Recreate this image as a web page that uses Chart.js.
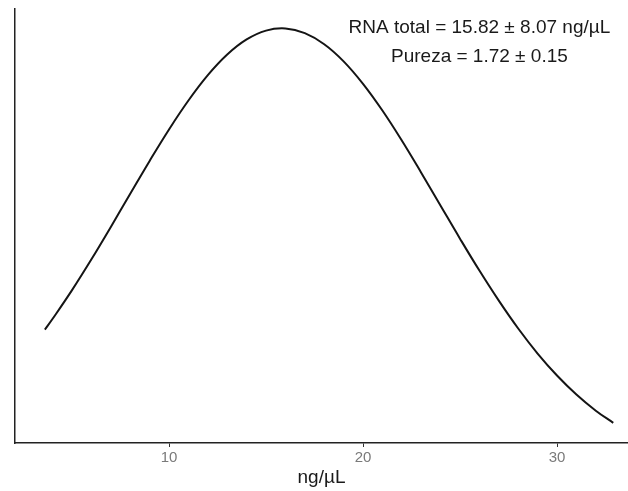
<!DOCTYPE html>
<html>
<head>
<meta charset="utf-8">
<script src="https://cdn.jsdelivr.net/npm/chart.js@4/dist/chart.umd.min.js"></script>
<style>
  html, body { margin: 0; padding: 0; background: #fff; }
  #wrap { width: 628px; height: 491px; }
</style>
</head>
<body>
<div id="wrap"><canvas id="myChart" width="628" height="491"></canvas></div>
<script>
// curve (x in ng/uL, y = density)
var concX = [3.6, 4, 5, 6, 7, 8, 9, 10, 11, 12, 13, 14, 15, 16, 17, 18, 19, 20, 21, 22,
             23, 24, 25, 26, 27, 28, 29, 30, 31, 32, 32.9];
var densY = [0.01570, 0.01691, 0.02012, 0.02357, 0.02720, 0.03091, 0.03459, 0.03811, 0.04135, 0.04419,
             0.04650, 0.04819, 0.04918, 0.04942, 0.04890, 0.04766, 0.04574, 0.04322, 0.04023, 0.03687,
             0.03327, 0.02957, 0.02588, 0.02231, 0.01894, 0.01582, 0.01302, 0.01056, 0.00843, 0.00662,
             0.00526];
var xTicks = [10, 20, 30];
var xTitle = "ng/\u00b5L";
var noteLines = ["RNA total = 15.82 \u00b1 8.07 ng/\u00b5L", "Pureza = 1.72 \u00b1 0.15"];
var noteX = 26;
var noteY = [0.0495, 0.04625];

var points = [];
for (var i = 0; i < concX.length; i++) {
    points.push({ x: concX[i], y: densY[i] });
}

// writes the summary text at data coords
var notePlugin = {
    id: "note",
    afterDatasetsDraw: function (chart) {
        var ctx = chart.ctx;
        var xs = chart.scales.x, ys = chart.scales.y;
        ctx.save();
        ctx.font = "19px 'Liberation Sans', Arial, sans-serif";
        ctx.fillStyle = "#1a1a1a";
        ctx.textAlign = "center";
        ctx.textBaseline = "middle";
        for (var j = 0; j < noteLines.length; j++) {
            ctx.fillText(noteLines[j], xs.getPixelForValue(noteX), ys.getPixelForValue(noteY[j]));
        }
        ctx.restore();
    }
};

var ctx = document.getElementById("myChart").getContext("2d");
var chart = new Chart(ctx, {
    type: "line",
    data: {
        datasets: [{
            data: points,
            borderColor: "#141414",
            borderWidth: 2,
            backgroundColor: "transparent",
            pointRadius: 0,
            tension: 0.4,
            fill: false
        }]
    },
    options: {
        responsive: false,
        animation: false,
        layout: { padding: { top: 9, right: 0, bottom: 0, left: 0 } },
        plugins: {
            legend: { display: false },
            tooltip: { enabled: false }
        },
        scales: {
            x: {
                type: "linear",
                min: 2.06,
                max: 33.66,
                afterFit: function (scale) { scale.height = 48; },
                afterBuildTicks: function (scale) {
                    scale.ticks = xTicks.map(function (v) { return { value: v }; });
                },
                grid: { display: true, drawOnChartArea: false, drawTicks: true, tickLength: 4, color: "#333" },
                border: { display: true, color: "#222", width: 1.5 },
                ticks: {
                    padding: 2,
                    maxRotation: 0,
                    color: "#7a7a7a",
                    font: { family: "'Liberation Sans', Arial, sans-serif", size: 15 }
                },
                title: {
                    display: true,
                    text: xTitle,
                    color: "#1a1a1a",
                    padding: { top: 0, bottom: 2 },
                    font: { family: "'Liberation Sans', Arial, sans-serif", size: 19 }
                }
            },
            y: {
                type: "linear",
                min: 0.003,
                max: 0.0516,
                afterFit: function (scale) { scale.width = 15; },
                grid: { display: false },
                border: { display: true, color: "#222", width: 1.5 },
                ticks: { display: false }
            }
        }
    },
    plugins: [notePlugin]
});
</script>
</body>
</html>
